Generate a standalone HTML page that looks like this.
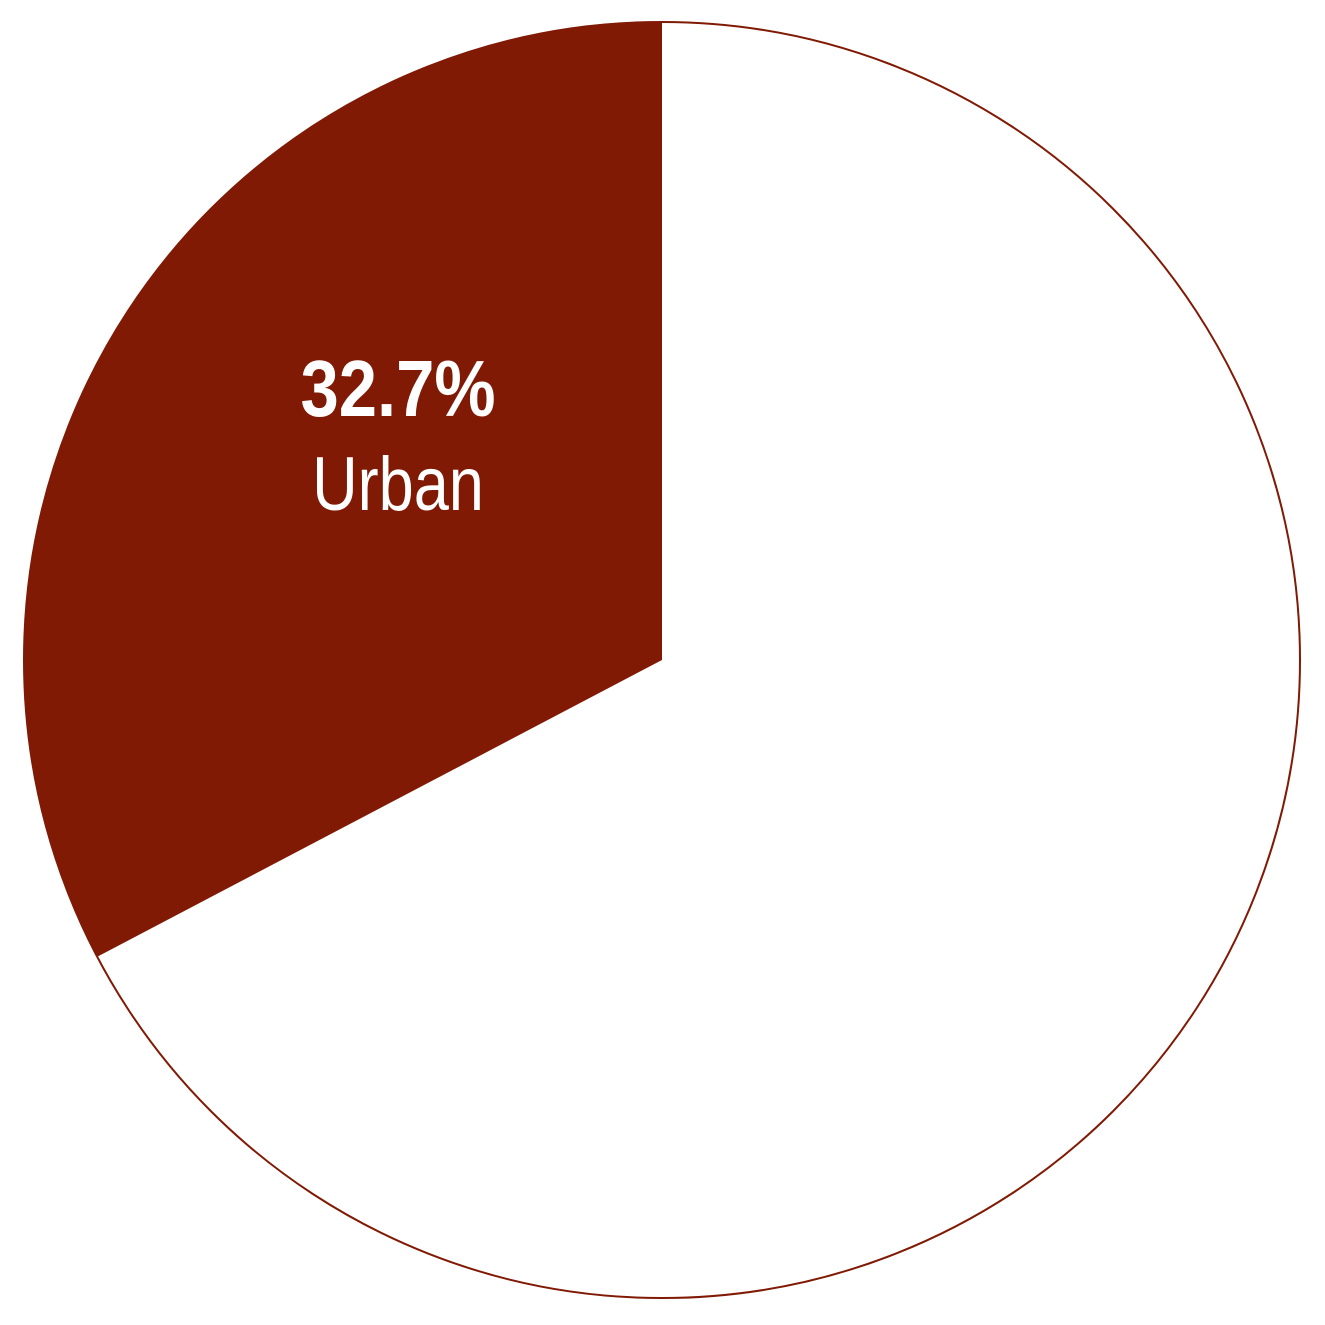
<!DOCTYPE html>
<html><head><meta charset="utf-8"><style>
html,body{margin:0;padding:0;background:#fff;width:1325px;height:1325px;overflow:hidden}
svg text{font-family:"Liberation Sans Narrow","Liberation Sans",sans-serif;fill:#fff}
</style></head><body>
<svg id="chart" width="1325" height="1325" viewBox="0 0 1325 1325"></svg>
<script>
const categories = ["Urban", "Other"];
const values = [32.7, 67.3];
const labels = ["32.7%", "Urban"];

const svg = document.getElementById('chart');
const NS = 'http://www.w3.org/2000/svg';
const cx = 662, cy = 660, r = 638;
const total = values.reduce((a,b)=>a+b,0);
function pt(frac){ const a = -frac*2*Math.PI; return [cx + r*Math.sin(a), cy - r*Math.cos(a)]; }

const circ = document.createElementNS(NS,'circle');
circ.setAttribute('cx',cx);circ.setAttribute('cy',cy);circ.setAttribute('r',r);
circ.setAttribute('fill','#fff');circ.setAttribute('stroke','#801a04');circ.setAttribute('stroke-width','2');


svg.appendChild(circ);

const f = values[0]/total;
const [x1,y1] = pt(0), [x2,y2] = pt(f);
const slice = document.createElementNS(NS,'path');
slice.setAttribute('d',`M${cx},${cy} L${x1},${y1} A${r},${r} 0 ${f>0.5?1:0} 0 ${x2},${y2} Z`);
slice.setAttribute('fill','#801a04');


svg.appendChild(slice);

const t1 = document.createElementNS(NS,'text');
t1.setAttribute('x',0);t1.setAttribute('y',0);t1.setAttribute('text-anchor','middle');
t1.setAttribute('transform','translate(398,416) scale(0.86,1)');
t1.setAttribute('font-size','80');t1.setAttribute('font-weight','bold');
t1.textContent = labels[0];


svg.appendChild(t1);

const t2 = document.createElementNS(NS,'text');
t2.setAttribute('x',0);t2.setAttribute('y',0);t2.setAttribute('text-anchor','middle');
t2.setAttribute('transform','translate(398,510) scale(0.83,1)');
t2.setAttribute('font-size','76');
t2.textContent = labels[1];


svg.appendChild(t2);
</script>
</body></html>
